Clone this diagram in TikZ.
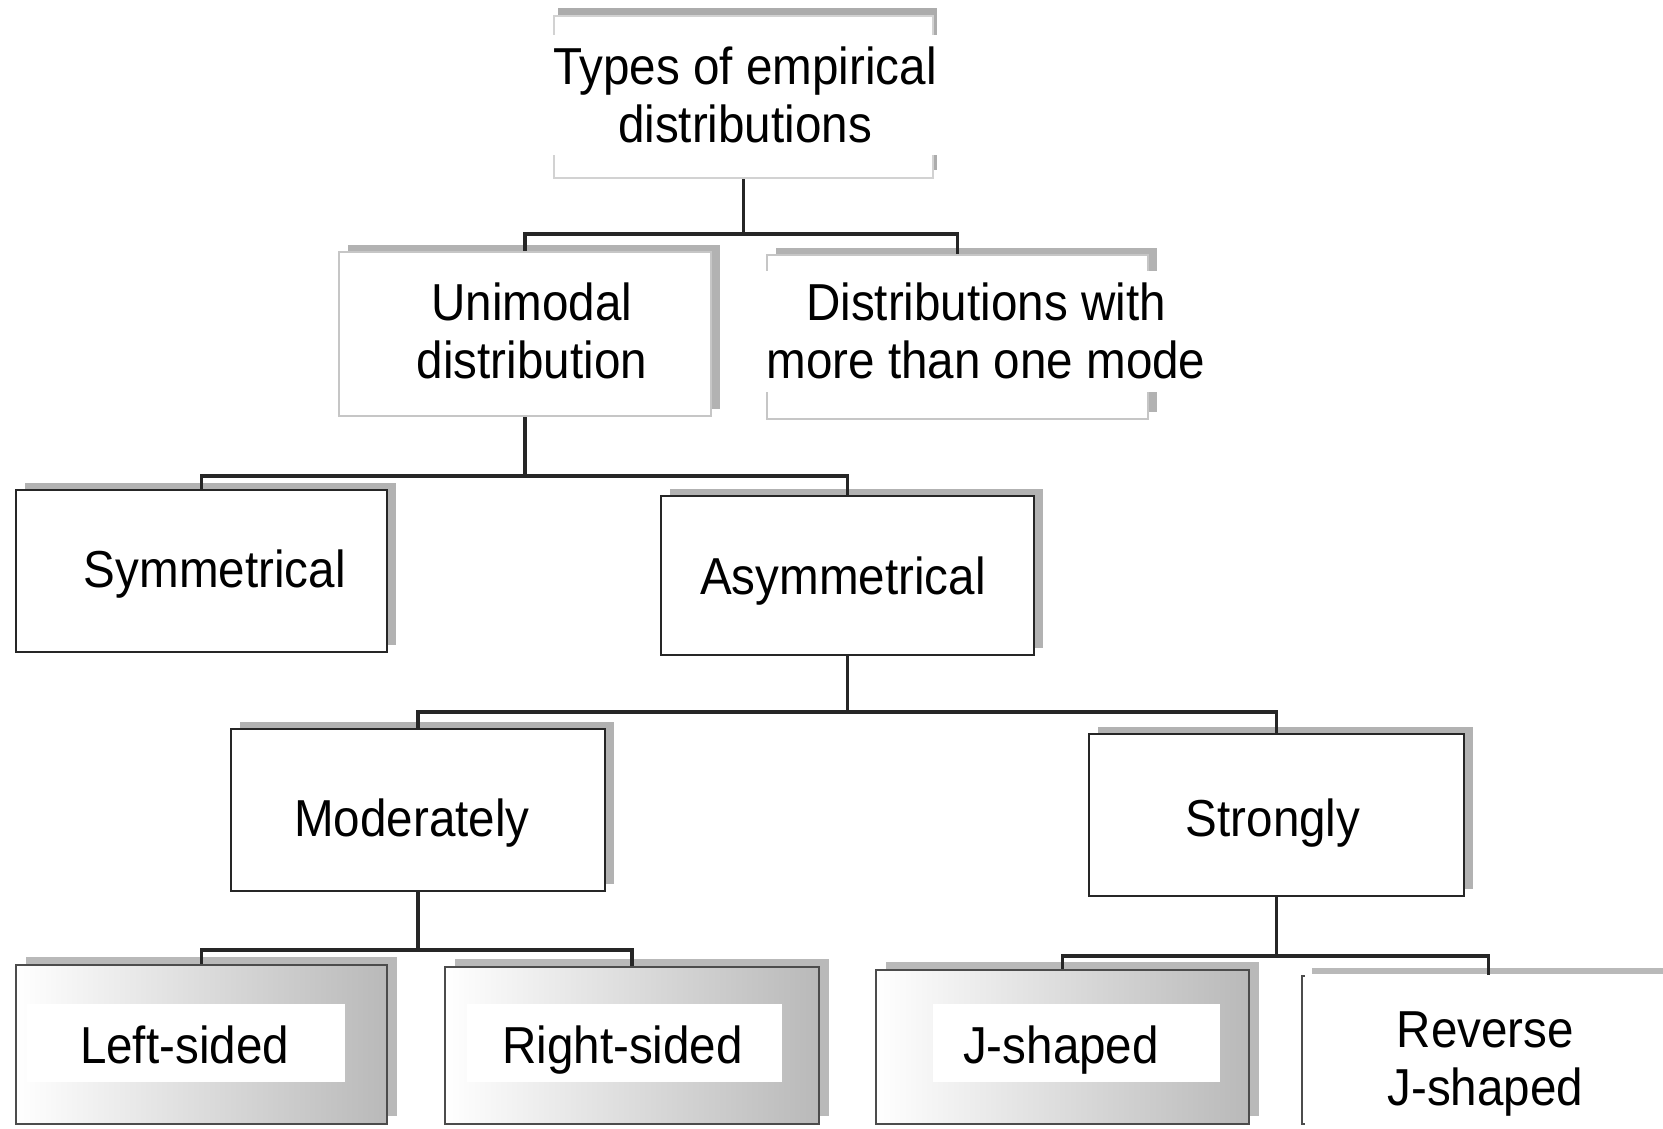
\documentclass[tikz,border=0pt]{standalone}
\usepackage{fontspec}
\setmainfont[FakeStretch=0.915]{Liberation Sans}
\usetikzlibrary{shadows}
\begin{document}
\begin{tikzpicture}[x=1pt,y=-1pt,
  boxbase/.style={rectangle, inner sep=0pt, fill=white, line width=2pt},
  shad/.style={drop shadow={shadow xshift=9pt, shadow yshift=7pt, opacity=1, fill=gray!60}},
  darkbox/.style={boxbase, draw=black!85, shad},
  lightbox/.style={boxbase, draw=gray!45, shad},
  topbox/.style={boxbase, draw=gray!35, drop shadow={shadow xshift=4pt, shadow yshift=8pt, opacity=1, fill=gray!65}},
  gradbox/.style={boxbase, draw=black!70, left color=white, middle color=white, right color=gray!55,
     drop shadow={shadow xshift=10pt, shadow yshift=8pt, opacity=1, fill=gray!55}},
  lbl/.style={font=\fontsize{52}{58}\selectfont, align=center, inner sep=0pt},
  coverlbl/.style={lbl, fill=white, inner xsep=2pt, inner ysep=12pt},
  conn/.style={line width=3.2pt, black!85}
]
\useasboundingbox (0,0) rectangle (1663,1128);
\clip (0,0) rectangle (1663,1128);

% boxes
\node[topbox, minimum width=379pt, minimum height=162pt] (top) at (743.5,97) {};
\node[lightbox, minimum width=372pt, minimum height=164pt] (uni) at (525,334) {};
\node[lightbox, minimum width=381pt, minimum height=164pt] (multi) at (957.5,337) {};
\node[darkbox, minimum width=371pt, minimum height=162pt] (sym) at (201.5,571) {};
\node[darkbox, minimum width=373pt, minimum height=159pt] (asym) at (847.5,575.5) {};
\node[darkbox, minimum width=374pt, minimum height=162pt] (mod) at (418,810) {};
\node[darkbox, minimum width=375pt, minimum height=162pt] (strong) at (1276.5,815) {};
\node[gradbox, minimum width=371pt, minimum height=159pt] (left) at (201.5,1044.5) {};
\node[gradbox, minimum width=374pt, minimum height=157pt] (right) at (632,1045.5) {};
\node[gradbox, minimum width=373pt, minimum height=154pt] (jsh) at (1062.5,1047) {};
\node[gradbox, minimum width=373pt, minimum height=148pt] (rev) at (1488.5,1050) {};

% white patches behind bottom labels
\fill[white] (27,1004) rectangle (345,1082);
\fill[white] (467,1004) rectangle (782,1082);
\fill[white] (933,1004) rectangle (1220,1082);
\fill[white] (1305,974) rectangle (1663,1128);

% labels
\node[coverlbl] (topt) at (745,95.4) {Types of empirical\\distributions};
\node[lbl] (unit) at (532,331.4) {Unimodal\\distribution};
\node[coverlbl] (multit) at (986,331.4) {Distributions with\\more than one mode};
\node[lbl] (symt) at (214.8,573.9) {Symmetrical};
\node[lbl] (asymt) at (843,580.9) {Asymmetrical};
\node[lbl] (modt) at (412,822.9) {Moderately};
\node[lbl] (strongt) at (1273,822.9) {Strongly};
\node[lbl] (leftt) at (184.5,1044.4) {Left-sided};
\node[lbl] (rightt) at (622.6,1049.8) {Right-sided};
\node[lbl] (jsht) at (1061,1049.8) {J-shaped};
\node[lbl] (revt) at (1485.4,1063.9) {Reverse\\J-shaped};

% connectors
\draw[conn] (top.south) -- ++(0,55) -| (uni.north);
\draw[conn] (top.south) ++(0,55) -| (multi.north);
\draw[conn] (uni.south) -- ++(0,59) -| (sym.north);
\draw[conn] (uni.south) ++(0,59) -| (asym.north);
\draw[conn] (asym.south) -- ++(0,56) -| (mod.north);
\draw[conn] (asym.south) ++(0,56) -| (strong.north);
\draw[conn] (mod.south) -- ++(0,58) -| (left.north);
\draw[conn] (mod.south) ++(0,58) -| (right.north);
\draw[conn] (strong.south) -- ++(0,59) -| (jsh.north);
\draw[conn] (strong.south) ++(0,59) -| (rev.north);
\end{tikzpicture}
\end{document}
